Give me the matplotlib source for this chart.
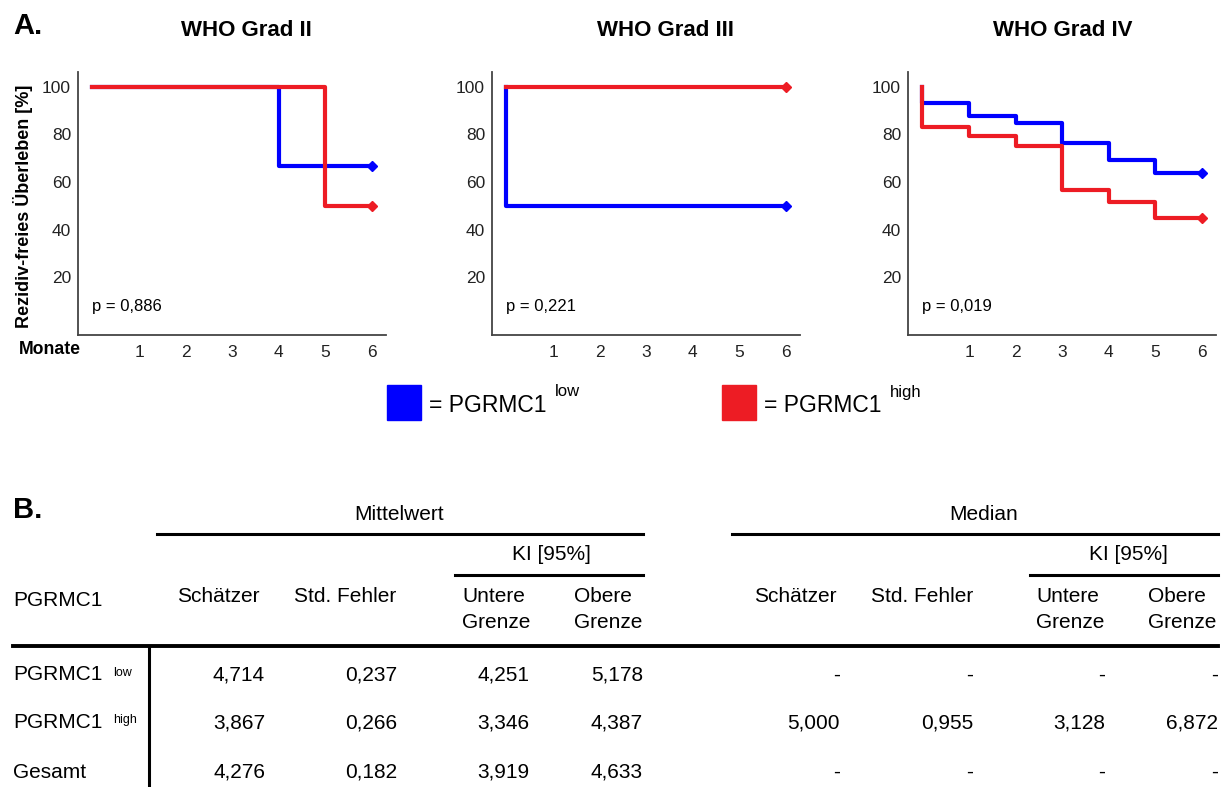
import numpy as np
import matplotlib
matplotlib.use("Agg")
import matplotlib.pyplot as plt
from matplotlib.lines import Line2D

plt.rcParams['font.family'] = ['Liberation Sans', 'DejaVu Sans']

# Kaplan-Meier Kurven (Monate, Rezidiv-freies Ueberleben in %)
grades = ['WHO Grad II', 'WHO Grad III', 'WHO Grad IV']
p_values = ['p = 0,886', 'p = 0,221', 'p = 0,019']

low_t = [[0, 4, 6], [0, 0, 6], [0, 0, 1, 2, 3, 4, 5, 6]]
low_s = [[100, 66.7, 66.7], [100, 50, 50],
         [100, 93.1, 87.8, 85.0, 76.3, 69.3, 63.7, 63.7]]
high_t = [[0, 5, 6], [0, 6], [0, 0, 1, 2, 3, 4, 5, 6]]
high_s = [[100, 50, 50], [100, 100],
          [100, 83.3, 79.4, 75.3, 56.6, 51.7, 44.7, 44.7]]

x_ticks = [1, 2, 3, 4, 5, 6]
y_ticks = [20, 40, 60, 80, 100]

# Tabelle: Mittelwert / Median der Ueberlebenszeit
row_names = ['PGRMC1', 'PGRMC1', 'Gesamt']
row_sup = ['low', 'high', '']
mean_est = [4.714, 3.867, 4.276]
mean_se = [0.237, 0.266, 0.182]
mean_lo = [4.251, 3.346, 3.919]
mean_hi = [5.178, 4.387, 4.633]
med_est = [None, 5.000, None]
med_se = [None, 0.955, None]
med_lo = [None, 3.128, None]
med_hi = [None, 6.872, None]

BLUE = '#0000ff'
RED = '#ed1c24'
W, H = 1229, 787

fig = plt.figure(figsize=(W / 100, H / 100), dpi=100)


def fx(x):
    return x / W


def fy(y):
    return 1 - y / H


def ftext(x, y, s, **kw):
    return fig.text(fx(x), fy(y), s, **kw)


def fline(x0, y0, x1, y1, lw=2.2):
    fig.add_artist(Line2D([fx(x0), fx(x1)], [fy(y0), fy(y1)],
                          transform=fig.transFigure, color='black', lw=lw))


# --- A. Kurven ---
lefts = [78, 492, 908]
title_x = [246, 665, 1063]
for i in range(3):
    ax = fig.add_axes([fx(lefts[i]), fy(335), 308 / W, 263 / H])
    ax.step(low_t[i], low_s[i], where='post', color=BLUE, lw=3)
    ax.plot(low_t[i][-1], low_s[i][-1], 'D', color=BLUE, ms=5)
    ax.step(high_t[i], high_s[i], where='post', color=RED, lw=3)
    ax.plot(high_t[i][-1], high_s[i][-1], 'D', color=RED, ms=5)
    ax.set_xlim(-0.31, 6.3)
    ax.set_ylim(-4.4, 106.3)
    ax.set_xticks(x_ticks)
    ax.set_yticks(y_ticks)
    ax.tick_params(length=0, labelsize=12.5, colors='#222222')
    ax.tick_params(axis='x', pad=7)
    ax.tick_params(axis='y', pad=5)
    for s in ['top', 'right']:
        ax.spines[s].set_visible(False)
    for s in ['left', 'bottom']:
        ax.spines[s].set_color('#444444')
        ax.spines[s].set_linewidth(1.3)
    ax.text(0.0, 7.5, p_values[i], fontsize=12, va='center', ha='left')
    ftext(title_x[i], 31, grades[i], fontsize=16, fontweight='bold',
          ha='center', va='center')

ftext(13, 26, 'A.', fontsize=21, fontweight='bold', ha='left', va='center')
ftext(23, 206, 'Rezidiv-freies Überleben [%]', fontsize=13, fontweight='bold',
      rotation=90, ha='center', va='center')
ftext(50, 350, 'Monate', fontsize=12.7, fontweight='bold',
      ha='center', va='center')

# Legende
fig.add_artist(plt.Rectangle((fx(387), fy(420)), 34 / W, 35 / H,
                             color=BLUE, transform=fig.transFigure))
fig.add_artist(plt.Rectangle((fx(722), fy(420)), 34 / W, 35 / H,
                             color=RED, transform=fig.transFigure))
leg1 = ftext(429, 405, '= PGRMC1', fontsize=16.5, ha='left', va='center')
leg2 = ftext(764, 405, '= PGRMC1', fontsize=16.5, ha='left', va='center')

# --- B. Tabelle ---
ftext(13, 510, 'B.', fontsize=21, fontweight='bold', ha='left', va='center')
fs = 15
ftext(399, 515, 'Mittelwert', fontsize=fs, ha='center', va='center')
ftext(984, 515, 'Median', fontsize=fs, ha='center', va='center')
fline(157, 534, 643, 534)
fline(732, 534, 1218, 534)
for cx in [551, 1128]:
    ftext(cx, 555, 'KI [95%]', fontsize=fs, ha='center', va='center')
fline(455, 575, 643, 575)
fline(1030, 575, 1218, 575)

ftext(13, 600, 'PGRMC1', fontsize=fs, ha='left', va='center')
for off in [0, 577]:
    ftext(218 + off, 596, 'Schätzer', fontsize=fs, ha='center', va='center')
    ftext(345 + off, 596, 'Std. Fehler', fontsize=fs, ha='center', va='center')
for ux, ox in [(462, 574), (1036, 1148)]:
    ftext(ux, 596, 'Untere', fontsize=fs, ha='left', va='center')
    ftext(ux, 623, 'Grenze', fontsize=fs, ha='left', va='center')
    ftext(ox, 596, 'Obere', fontsize=fs, ha='left', va='center')
    ftext(ox, 623, 'Grenze', fontsize=fs, ha='left', va='center')

fline(13, 646, 1218, 646, lw=2.8)
fline(149, 646, 149, 787, lw=2.2)


def fmt(v):
    return '-' if v is None else f'{v:.3f}'.replace('.', ',')


row_y = [675, 723, 772]
col_right = [265, 397, 529, 643, 840, 973, 1105, 1218]
cols = [mean_est, mean_se, mean_lo, mean_hi, med_est, med_se, med_lo, med_hi]
row_txt = []
for r, y in enumerate(row_y):
    row_txt.append(ftext(13, y, row_names[r], fontsize=fs, ha='left', va='center'))
    for c, xr in enumerate(col_right):
        ftext(xr, y, fmt(cols[c][r]), fontsize=fs, ha='right', va='center')

# Hochgestellte Zusaetze hinter den Beschriftungen
fig.canvas.draw()
rend = fig.canvas.get_renderer()
for t, sup in [(leg1, 'low'), (leg2, 'high')]:
    bb = t.get_window_extent(rend)
    fig.text((bb.x1 + 8) / W, (bb.y1 + 9) / H, sup, fontsize=12,
             ha='left', va='top')
for t, sup in zip(row_txt, row_sup):
    if sup:
        bb = t.get_window_extent(rend)
        fig.text((bb.x1 + 11) / W, (bb.y1 - 1) / H, sup, fontsize=9,
                 ha='left', va='top')

fig.savefig('out.png', dpi=100)
